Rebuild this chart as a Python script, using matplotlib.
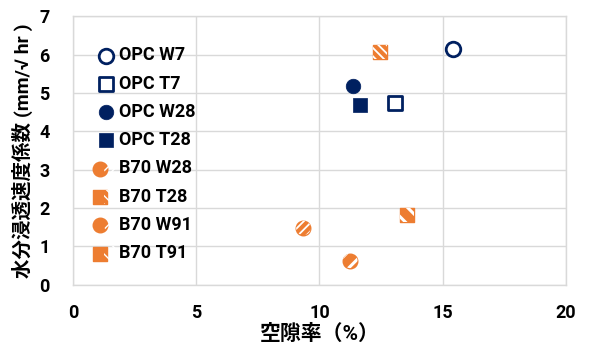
import matplotlib
matplotlib.use("Agg")
import matplotlib.pyplot as plt
from matplotlib.legend_handler import HandlerTuple

plt.rcParams['font.family'] = ['Roboto', 'Noto Sans CJK JP', 'DejaVu Sans']

labels = ["OPC W7", "OPC T7", "OPC W28", "OPC T28", "B70 W28", "B70 T28", "B70 W91", "B70 T91"]
porosity = [15.4, 13.05, 11.35, 11.65, 9.35, 12.45, 11.25, 13.55]
coef = [6.15, 4.73, 5.18, 4.69, 1.48, 6.07, 0.62, 1.82]

navy = '#002060'
orange = '#ED7D31'
styles = [
    dict(marker='o', facecolor='white', edgecolor=navy, linewidths=2.0, hatch=None, hlw=1),
    dict(marker='s', facecolor='white', edgecolor=navy, linewidths=2.0, hatch=None, hlw=1),
    dict(marker='o', facecolor=navy, edgecolor=navy, linewidths=0.5, hatch=None, hlw=1),
    dict(marker='s', facecolor=navy, edgecolor=navy, linewidths=0.5, hatch=None, hlw=1),
    dict(marker='o', facecolor=orange, edgecolor=orange, linewidths=1.0, hatch='////', hlw=1.3),
    dict(marker='s', facecolor=orange, edgecolor=orange, linewidths=1.0, hatch='\\\\\\\\', hlw=1.3),
    dict(marker='o', facecolor=orange, edgecolor=orange, linewidths=1.0, hatch='//', hlw=2.2),
    dict(marker='s', facecolor=orange, edgecolor=orange, linewidths=1.0, hatch='\\\\', hlw=2.2),
]

fig = plt.figure(figsize=(5.91, 3.45), dpi=100)
ax = fig.add_axes([0.1235, 0.175, 0.834, 0.778])

handles = []
for x, y, st in zip(porosity, coef, styles):
    st = dict(st)
    h = st.pop('hatch')
    hlw = st.pop('hlw')
    base = ax.scatter([x], [y], s=110, zorder=3, **st)
    if h:
        with plt.rc_context({'hatch.linewidth': hlw, 'hatch.color': 'white'}):
            over = ax.scatter([x], [y], s=110, zorder=4, marker=st['marker'],
                              facecolor='none', edgecolor='white', linewidths=0, hatch=h)
        handles.append((base, over))
    else:
        handles.append(base)

ax.set_xlim(0, 20)
ax.set_ylim(0, 7)
ax.set_xticks([0, 5, 10, 15, 20])
ax.set_yticks(range(0, 8))
ax.grid(True, color='#D9D9D9', linewidth=1.0, zorder=0)
ax.set_axisbelow(True)
for sp in ax.spines.values():
    sp.set_color('#D9D9D9')
    sp.set_linewidth(1.0)
ax.tick_params(length=0, labelsize=13, pad=14)
ax.tick_params(axis='y', pad=17)
for t in ax.get_xticklabels() + ax.get_yticklabels():
    t.set_fontweight('bold')

ax.set_xlabel("空隙率（%）", fontsize=15, fontweight='bold', labelpad=1)
ax.set_ylabel("水分浸透速度係数 (mm/√ hr )", fontsize=14, fontweight='bold', labelpad=4)

leg = ax.legend(handles, labels, loc='upper left', bbox_to_anchor=(0.03, 0.915), frameon=False,
                prop=dict(size=13, weight='bold'), handletextpad=0.15,
                labelspacing=0.57, borderaxespad=0, scatterpoints=1, handlelength=1.2,
                handler_map={tuple: HandlerTuple(ndivide=None, pad=0)})

fig.savefig("out.png", dpi=100)
